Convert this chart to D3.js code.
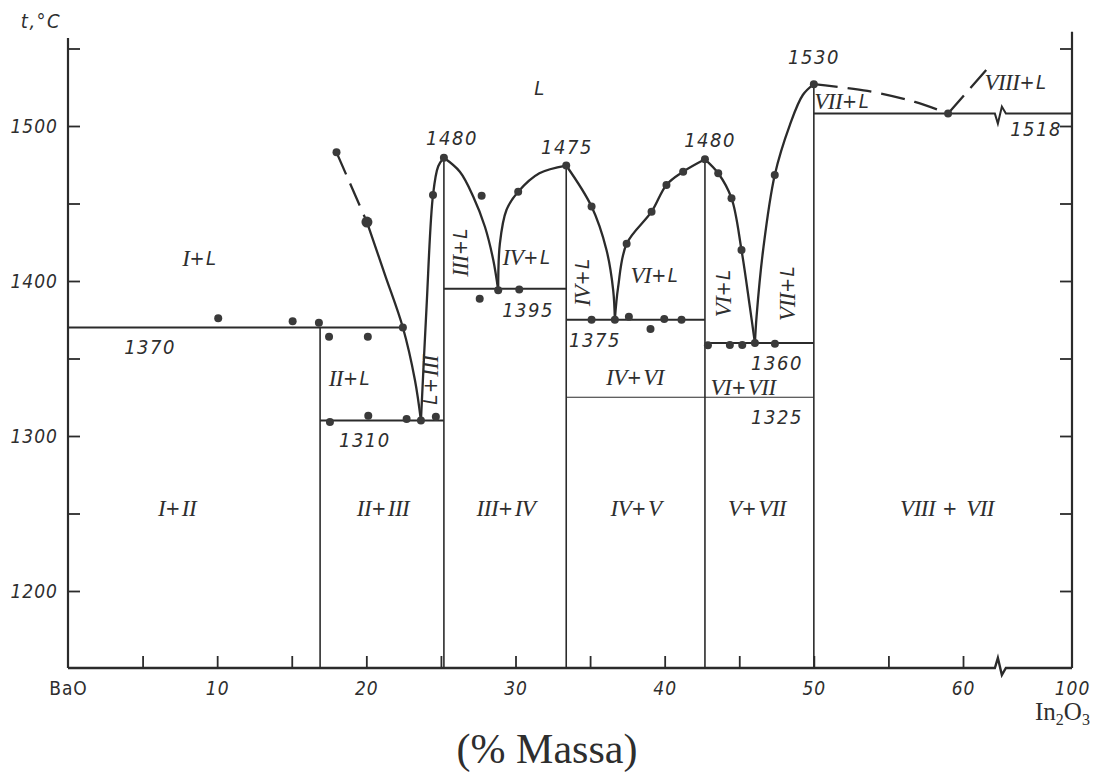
<!DOCTYPE html>
<html>
<head>
<meta charset="utf-8">
<script src="https://cdn.jsdelivr.net/npm/d3@7"></script>
<style>
  body { margin: 0; background: #fff; }
  text { fill: #2e2e2e; }
  .lbl { font-family: "DejaVu Sans Condensed", "DejaVu Sans", sans-serif; font-style: italic; font-size: 20px; letter-spacing: 1.5px; }
  .rom { font-family: "Liberation Serif", serif; font-style: italic; font-size: 23px; letter-spacing: -0.5px; }
  .axlbl { font-family: "DejaVu Sans Condensed", "DejaVu Sans", sans-serif; font-style: italic; font-size: 19px; letter-spacing: 1px; }
</style>
</head>
<body>
<svg id="chart" width="1096" height="773"></svg>
<script>
// ---- data ----
var yTicks = [1200, 1250, 1300, 1350, 1400, 1450, 1500, 1550];
var yLabels = [1200, 1300, 1400, 1500];
var xTicks = [5, 10, 15, 20, 25, 30, 35, 40, 45, 50, 55, 60];
var xLabels = [0, 10, 20, 30, 40, 50, 60, 100];
var xBreak = 62.8;

// compounds: composition and top of the line
var compoundX = [16.9, 25.2, 33.4, 42.7, 50];
var compoundTop = [1370, 1479.5, 1474.5, 1478.5, 1527];

// horizontal isotherms
var isoT = [1370, 1310, 1395, 1375, 1360, 1325, 1508];
var isoFrom = [0, 16.9, 25.2, 33.4, 42.7, 33.4, 50];
var isoTo = [22.45, 25.2, 33.4, 42.7, 50, 50, 100];

// liquidus branches [x, t]
var liqI = [[20.04, 1438], [21.25, 1404], [22.45, 1370], [23.26, 1336], [23.66, 1310]];
var liqIDash = [[18.0, 1483], [20.04, 1438]];
var liqIIIa = [[23.66, 1310], [24.03, 1382], [24.47, 1455.5], [24.82, 1474], [25.2, 1479.5]];
var liqIIIb = [[25.2, 1479.5], [26.27, 1470.5], [27.17, 1454.4], [27.95, 1435], [28.51, 1413.5], [28.84, 1394]];
var liqIVa = [[28.84, 1394], [28.95, 1424], [29.4, 1446], [30.18, 1457.6], [31.6, 1469.5], [33.4, 1474.5]];
var liqIVb = [[33.4, 1474.5], [35.1, 1448], [36.1, 1420], [36.55, 1394], [36.66, 1375]];
var liqVIa = [[36.66, 1375], [36.88, 1396], [37.45, 1424], [39.12, 1444.7], [40.12, 1462], [41.24, 1470.5], [42.7, 1478.5]];
var liqVIb = [[42.7, 1478.5], [43.59, 1469.5], [44.48, 1453.4], [45.15, 1420], [45.71, 1383.4], [46.05, 1360]];
var liqVIIa = [[46.05, 1360], [46.16, 1377], [46.6, 1420], [47.38, 1468.4], [48.39, 1500.6], [49.26, 1520], [50, 1527]];
var liqVIIDash = [[50, 1527], [53.6, 1522.6], [56.77, 1515.5], [59.0, 1508]];
var liqVIIIDash = [[59.0, 1508], [61.9, 1540]];

// experimental points [x, t]
var points = [
  [10.07, 1376], [15.06, 1374], [16.82, 1373], [17.5, 1364], [20.1, 1364],
  [17.56, 1309], [20.13, 1313], [22.7, 1311], [23.66, 1310], [24.66, 1312.5],
  [18.0, 1483], [22.45, 1370], [24.47, 1455.5], [25.2, 1479.5],
  [27.73, 1455], [27.6, 1388.5], [28.84, 1394], [30.25, 1394.5],
  [30.18, 1457.6], [33.4, 1474.5], [35.1, 1448],
  [35.1, 1375], [36.66, 1375], [37.6, 1377], [39.97, 1375.5], [41.13, 1375], [39.05, 1369],
  [37.45, 1424], [39.12, 1444.7], [40.12, 1462], [41.24, 1470.5], [42.7, 1478.5],
  [43.59, 1469.5], [44.48, 1453.4], [45.15, 1420],
  [42.9, 1358.5], [44.37, 1358.7], [45.2, 1358.7], [46.05, 1360], [47.39, 1359.5],
  [47.38, 1468.4], [50, 1527], [59.0, 1508]
];
var bigPoints = [[20.04, 1438]];

// field labels: text, x, t, rotation
var labelText = ["L", "I+L", "1370", "II+L", "L+III", "1310", "III+L", "IV+L", "1395", "IV+L",
  "VI+L", "1375", "IV+VI", "VI+L", "VII+L", "1360", "VI+VII", "1325", "1480", "1475", "1480",
  "1530", "VII+L", "VIII+L", "1518", "I+II", "II+III", "III+IV", "IV+V", "V+VII", "VIII + VII"];
var labelX = [31.64, 8.85, 5.5, 18.9, 24.27, 19.9, 26.28, 30.77, 30.84, 34.46,
  39.35, 35.33, 38.01, 43.91, 48.2, 47.53, 45.25, 47.53, 25.74, 33.45, 43.04,
  50.01, 51.9, 70.7, 81.2, 7.31, 21.12, 29.36, 38.08, 46.19, 58.93];
var labelT = [1524.5, 1414.8, 1357.4, 1337.4, 1336.1, 1297.4, 1418.7, 1415.5, 1381.3, 1399.4,
  1403.9, 1361.9, 1338.1, 1392.3, 1392.3, 1347.1, 1331.6, 1312.3, 1492.3, 1486.5, 1491,
  1544.5, 1516.1, 1528.4, 1498, 1253.5, 1253.5, 1253.5, 1253.5, 1253.5, 1253.5];
var labelRot = [0, 0, 0, 0, -90, 0, -90, 0, 0, -90,
  0, 0, 0, -90, -90, 0, 0, 0, 0, 0, 0,
  0, 0, 0, 0, 0, 0, 0, 0, 0, 0];

// ---- drawing ----
var svg = d3.select("#chart");
var ink = "#2b2b2b";

var x = d3.scaleLinear().domain([0, 62.5, 100]).range([68, 1000.3, 1072]);
var y = d3.scaleLinear().domain([1200, 1500]).range([591, 126]);
var tMin = y.invert(668), tMax = y.invert(38);

var line = d3.line().x(function (d) { return x(d[0]); }).y(function (d) { return y(d[1]); });
var smooth = d3.line().x(function (d) { return x(d[0]); }).y(function (d) { return y(d[1]); })
  .curve(d3.curveCatmullRom.alpha(0.5));

var g = svg.append("g");

// left axis
var yAxis = d3.axisLeft(y).tickValues(yTicks).tickSizeInner(-12).tickSizeOuter(0).tickPadding(10)
  .tickFormat(function (d) { return yLabels.indexOf(d) >= 0 ? d : ""; });
var yG = g.append("g").attr("transform", "translate(" + x(0) + ",0)").call(yAxis);
yG.select(".domain").remove();
yG.selectAll("line").attr("stroke", ink).attr("stroke-width", 1.8);
yG.selectAll("text").attr("class", "axlbl").attr("font-size", null).attr("font-family", null).attr("fill", "#2e2e2e");
g.append("path").attr("d", line([[0, tMin], [0, tMax]])).attr("stroke", ink).attr("stroke-width", 2.2).attr("fill", "none");

// right axis
var yAxisR = d3.axisRight(y).tickValues(yTicks).tickSizeInner(-12).tickSizeOuter(0).tickFormat("");
var yRG = g.append("g").attr("transform", "translate(" + x(100) + ",0)").call(yAxisR);
yRG.select(".domain").remove();
yRG.selectAll("line").attr("stroke", ink).attr("stroke-width", 1.8);
g.append("path").attr("d", line([[100, tMin], [100, tMax + 4]])).attr("stroke", ink).attr("stroke-width", 2.2).attr("fill", "none");

// bottom axis ticks
var xAxis = d3.axisBottom(x).tickValues(xTicks).tickSizeInner(-12).tickSizeOuter(0).tickFormat("");
var xG = g.append("g").attr("transform", "translate(0," + y(tMin) + ")").call(xAxis);
xG.select(".domain").remove();
xG.selectAll("line").attr("stroke", ink).attr("stroke-width", 1.8);

// bottom axis labels
var xAxisL = d3.axisBottom(x).tickValues(xLabels).tickSize(0).tickPadding(14)
  .tickFormat(function (d) { return d === 0 ? "BaO" : d; });
var xLG = g.append("g").attr("transform", "translate(0," + y(tMin) + ")").call(xAxisL);
xLG.select(".domain").remove();
xLG.selectAll("text").attr("class", "axlbl").attr("font-size", null).attr("font-family", null).attr("fill", "#2e2e2e");
xLG.selectAll("text").filter(function (d) { return d === 0; }).style("font-style", "normal");

// axis line with a break mark
function brokenLine(t, x0, x1, flip) {
  var xb = x(xBreak), yb = y(t), s = flip ? -1 : 1;
  var p = "M" + x(x0) + "," + yb + "L" + (xb - 6) + "," + yb +
    "L" + (xb - 3) + "," + (yb - 10 * s) + "L" + (xb + 1) + "," + (yb + 7 * s) +
    "L" + (xb + 5) + "," + yb + "L" + x(x1) + "," + yb;
  return p;
}
g.append("path").attr("d", brokenLine(tMin, 0, 100, false)).attr("stroke", ink).attr("stroke-width", 2.4).attr("fill", "none");

// compound verticals
compoundX.forEach(function (cx, i) {
  g.append("path").attr("d", line([[cx, tMin], [cx, compoundTop[i]]]))
    .attr("stroke", ink).attr("stroke-width", 1.6).attr("fill", "none");
});

// isotherms
isoT.forEach(function (t, i) {
  var p = (isoTo[i] === 100) ? brokenLine(t, isoFrom[i], isoTo[i], true) : line([[isoFrom[i], t], [isoTo[i], t]]);
  g.append("path").attr("d", p).attr("stroke", ink)
    .attr("stroke-width", t === 1325 ? 1.2 : 2).attr("fill", "none");
});

// liquidus
[liqI, liqIIIa, liqIIIb, liqIVa, liqIVb, liqVIa, liqVIb, liqVIIa].forEach(function (c) {
  g.append("path").attr("d", smooth(c)).attr("stroke", ink).attr("stroke-width", 2.3).attr("fill", "none");
});
[liqIDash, liqVIIDash, liqVIIIDash].forEach(function (c) {
  g.append("path").attr("d", smooth(c)).attr("stroke", ink).attr("stroke-width", 2.3)
    .attr("stroke-dasharray", "24,10").attr("fill", "none");
});

// points
g.selectAll(".pt").data(points).enter().append("circle").attr("class", "pt")
  .attr("cx", function (d) { return x(d[0]); }).attr("cy", function (d) { return y(d[1]); })
  .attr("r", 4).attr("fill", "#3a3a3a");
g.selectAll(".bpt").data(bigPoints).enter().append("circle").attr("class", "bpt")
  .attr("cx", function (d) { return x(d[0]); }).attr("cy", function (d) { return y(d[1]); })
  .attr("r", 5.5).attr("fill", "#3a3a3a");

// field labels (roman numerals in a serif face, like the drawn ones)
labelText.forEach(function (s, i) {
  var t = g.append("text").attr("class", "lbl")
    .attr("transform", "translate(" + x(labelX[i]) + "," + y(labelT[i]) + ") rotate(" + labelRot[i] + ")")
    .attr("text-anchor", "middle").attr("dominant-baseline", "central");
  s.split(/([IVX]+)/).filter(function (p) { return p.length; }).forEach(function (p) {
    var sp = t.append("tspan").text(p);
    if (/^[IVX]+$/.test(p)) sp.attr("class", "rom");
  });
});

// axis titles
g.append("text").attr("class", "lbl").attr("x", x(0) - 27).attr("y", y(tMax) - 17)
  .attr("text-anchor", "middle").attr("dominant-baseline", "central").text("t,°C");

var inT = g.append("text").attr("x", x(100) - 37).attr("y", y(tMin) + 52)
  .style("font-family", "'Liberation Serif', serif").style("font-size", "25px");
inT.append("tspan").text("In");
inT.append("tspan").attr("font-size", "16px").attr("dy", 5).text("2");
inT.append("tspan").attr("dy", -5).text("O");
inT.append("tspan").attr("font-size", "16px").attr("dy", 5).text("3");

g.append("text").attr("x", 547).attr("y", 763).attr("text-anchor", "middle")
  .style("font-family", "'Liberation Serif', serif").style("font-size", "42px").text("(% Massa)");
</script>
</body>
</html>
